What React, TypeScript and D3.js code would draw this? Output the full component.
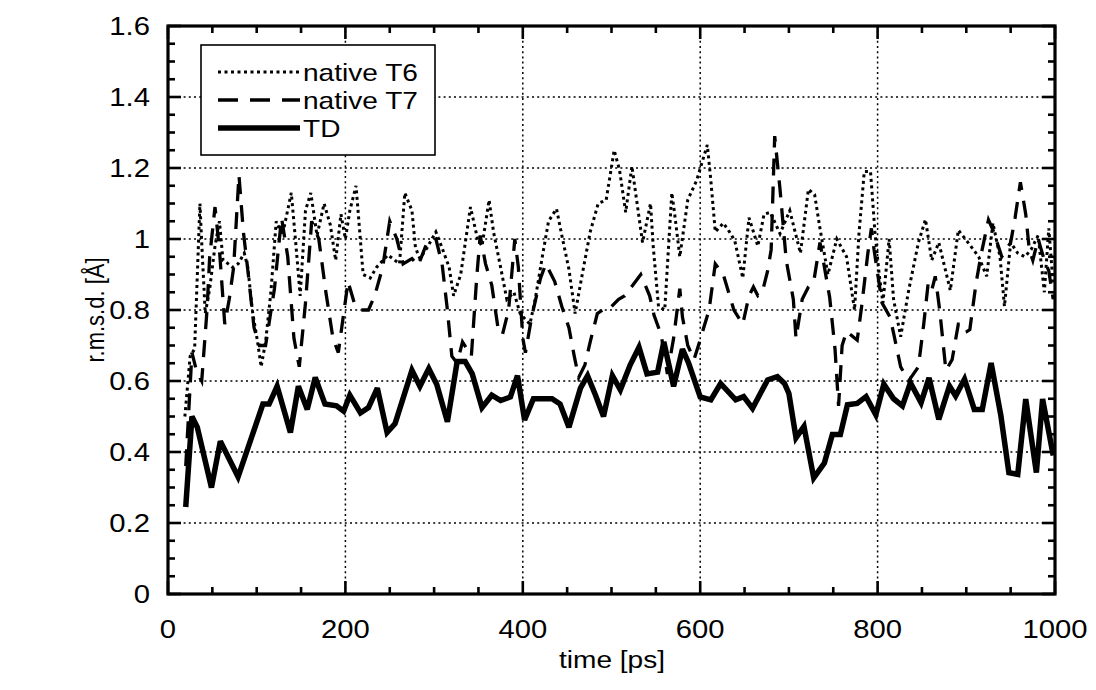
import React from "react";
import * as d3 from "d3";

// ---- data (time [ps], r.m.s.d. [Å]) ----
const tdTime = [20,27,33,49,59,79,107,114,123,138,147,157,166,177,190,198,205,217,226,236,247,256,275,284,294,303,315,326,335,343,354,365,375,386,394,402,412,433,442,452,465,473,482,491,501,510,521,531,540,552,559,570,580,587,600,612,623,640,649,659,676,687,695,700,708,717,728,740,749,758,766,777,787,798,807,818,828,837,849,858,869,881,888,898,909,918,928,939,948,958,967,979,986,998];
const tdValue = [0.245,0.50,0.47,0.30,0.43,0.33,0.535,0.535,0.585,0.455,0.585,0.52,0.61,0.535,0.53,0.515,0.56,0.51,0.525,0.58,0.455,0.48,0.63,0.585,0.635,0.59,0.485,0.655,0.655,0.62,0.525,0.56,0.545,0.555,0.615,0.49,0.55,0.55,0.535,0.47,0.58,0.615,0.56,0.50,0.615,0.575,0.645,0.695,0.62,0.625,0.71,0.585,0.69,0.65,0.555,0.547,0.593,0.547,0.556,0.523,0.603,0.612,0.593,0.565,0.44,0.472,0.327,0.369,0.449,0.449,0.533,0.537,0.556,0.505,0.591,0.55,0.53,0.595,0.539,0.609,0.492,0.586,0.558,0.605,0.52,0.52,0.651,0.502,0.342,0.337,0.549,0.342,0.549,0.39];

const t6Time = [19,25,30,36,38,42,47,53,58,62,68,73,79,86,90,95,101,105,110,116,122,129,139,144,149,155,161,168,176,183,189,195,200,205,212,220,228,235,248,261,267,275,279,284,292,302,309,317,322,330,341,349,354,362,367,375,382,390,397,408,414,422,429,438,444,452,459,467,476,485,494,503,509,516,523,535,544,547,553,560,568,571,577,586,596,608,612,617,626,633,639,648,655,665,672,679,690,701,713,722,729,735,744,754,765,774,779,785,792,797,802,806,813,818,826,835,846,854,861,869,882,891,902,914,923,930,938,943,950,958,966,973,981,988,993,998];
const t6Value = [0.50,0.67,0.69,1.10,0.99,0.79,0.86,0.98,1.05,0.94,0.93,0.92,0.93,0.96,0.92,0.80,0.71,0.64,0.71,0.85,1.05,1.01,1.13,0.99,0.84,1.08,1.13,1.01,1.10,1.04,0.94,1.07,1.00,1.08,1.15,0.90,0.89,0.92,0.955,0.93,1.13,1.08,0.975,0.945,0.975,1.02,0.975,0.92,0.84,0.90,1.09,1.00,0.98,1.11,1.02,0.92,0.83,0.85,0.79,0.76,0.83,0.95,1.05,1.085,1.01,0.915,0.79,0.90,1.02,1.10,1.11,1.25,1.195,1.075,1.205,0.99,1.10,0.98,0.81,0.80,1.13,1.075,0.95,1.11,1.165,1.265,1.165,1.02,1.045,1.02,0.995,0.89,1.06,0.98,1.07,1.075,1.015,1.08,0.96,1.14,1.125,1.03,0.90,1.00,0.95,0.80,1.015,1.19,1.19,1.02,0.895,0.82,1.00,0.83,0.725,0.855,0.99,1.055,0.94,0.99,0.855,1.025,0.99,0.95,0.895,1.045,0.95,0.81,0.99,0.96,0.95,0.97,1.01,0.85,1.03,0.87];

const t7Time = [20,27,32,38,44,47,53,58,64,69,74,80,85,91,97,103,110,120,128,135,142,148,155,162,170,178,186,192,203,210,218,226,233,242,250,258,265,275,282,292,302,309,315,320,326,332,342,348,352,358,365,372,377,384,391,395,400,403,410,420,426,436,444,452,458,463,470,476,484,490,496,508,515,521,533,543,548,556,563,570,577,580,586,593,598,610,617,626,638,648,655,660,665,670,676,680,684,690,697,705,708,715,722,728,735,738,746,752,756,760,765,777,782,789,793,796,805,814,818,826,835,846,852,857,861,865,870,877,884,891,898,901,904,911,917,925,930,940,950,955,961,967,971,975,981,988,993,998];
const t7Value = [0.36,0.68,0.63,0.60,0.80,0.95,1.09,0.97,0.76,0.83,0.92,1.18,1.02,0.89,0.75,0.70,0.70,0.86,1.06,0.95,0.72,0.64,0.82,1.05,1.00,0.85,0.72,0.68,0.88,0.82,0.80,0.80,0.84,0.92,1.05,1.00,0.93,0.945,0.925,0.99,1.00,0.93,0.80,0.67,0.65,0.71,0.67,0.89,1.01,0.93,0.87,0.75,0.73,0.80,1.00,0.92,0.72,0.68,0.78,0.89,0.93,0.88,0.81,0.75,0.67,0.61,0.645,0.71,0.79,0.80,0.80,0.83,0.84,0.86,0.90,0.84,0.785,0.73,0.62,0.72,0.86,0.78,0.70,0.66,0.70,0.80,0.93,0.90,0.80,0.76,0.84,0.865,0.84,0.85,0.91,0.97,1.29,1.14,0.94,0.83,0.72,0.83,0.865,0.88,0.99,0.95,0.835,0.69,0.53,0.70,0.74,0.715,0.81,0.96,1.03,0.97,0.82,0.78,0.735,0.64,0.60,0.64,0.76,0.875,0.855,0.895,0.80,0.63,0.66,0.76,0.76,0.74,0.745,0.876,0.96,1.054,1.026,0.95,0.99,1.06,1.16,1.07,0.97,0.94,1.00,0.94,0.91,0.83];

const seriesNames = ["native T6", "native T7", "TD"];
const xTickValues = [0, 200, 400, 600, 800, 1000];
const yTickValues = [0, 0.2, 0.4, 0.6, 0.8, 1, 1.2, 1.4, 1.6];
const yTickLabels = ["0", "0.2", "0.4", "0.6", "0.8", "1", "1.2", "1.4", "1.6"];

const W = 1096, H = 690;
const X0 = 168, X1 = 1055, Y0 = 594, Y1 = 26;
const FONT = "'Liberation Sans', Arial, Helvetica, sans-serif";
const SX = 1.17;

export default function App() {
  const x = d3.scaleLinear().domain([0, 1000]).range([X0, X1]);
  const y = d3.scaleLinear().domain([0, 1.6]).range([Y0, Y1]);
  const line = d3.line<[number, number]>().x(d => x(d[0])).y(d => y(d[1]));
  const zip = (t: number[], v: number[]) => t.map((tt, i) => [tt, v[i]] as [number, number]);

  const xMinor = d3.range(0, 1001, 50);
  const yMinor = d3.range(0, 1.6001, 0.05);
  const xGrid = [200, 400, 600, 800];
  const yGrid = [0.2, 0.4, 0.6, 0.8, 1, 1.2, 1.4];

  const styles = [
    { w: 3, dash: "3,3.5" },
    { w: 3.3, dash: "17,11" },
    { w: 5.5, dash: "none" },
  ];

  const legendY = [72, 100, 128];

  return (
    <svg width={W} height={H} style={{ position: "absolute", left: 0, top: 0, background: "#fff" }}>
      <rect x={0} y={0} width={W} height={H} fill="#fff" />
      {/* grid */}
      {xGrid.map(v => (
        <line key={"gx" + v} x1={x(v)} x2={x(v)} y1={Y0} y2={Y1} stroke="#000" strokeWidth={1.5} strokeDasharray="2,3.2" />
      ))}
      {yGrid.map(v => (
        <line key={"gy" + v} x1={X0} x2={X1} y1={y(v)} y2={y(v)} stroke="#000" strokeWidth={1.5} strokeDasharray="2,3.2" />
      ))}
      {/* data */}
      <path d={line(zip(t6Time, t6Value)) || ""} fill="none" stroke="#000" strokeWidth={styles[0].w} strokeDasharray={styles[0].dash} />
      <path d={line(zip(t7Time, t7Value)) || ""} fill="none" stroke="#000" strokeWidth={styles[1].w} strokeDasharray={styles[1].dash} />
      <path d={line(zip(tdTime, tdValue)) || ""} fill="none" stroke="#000" strokeWidth={styles[2].w} strokeLinejoin="miter" strokeMiterlimit={3} />
      {/* frame */}
      <rect x={X0} y={Y1} width={X1 - X0} height={Y0 - Y1} fill="none" stroke="#000" strokeWidth={3.2} />
      {/* ticks */}
      {xMinor.map(v => {
        const major = v % 200 === 0;
        const len = major ? 13 : 7;
        return (
          <g key={"tx" + v}>
            <line x1={x(v)} x2={x(v)} y1={Y0} y2={Y0 - len} stroke="#000" strokeWidth={2.6} />
            <line x1={x(v)} x2={x(v)} y1={Y1} y2={Y1 + len} stroke="#000" strokeWidth={2.6} />
          </g>
        );
      })}
      {yMinor.map((v, i) => {
        const major = i % 4 === 0;
        const len = major ? 13 : 7;
        return (
          <g key={"ty" + i}>
            <line x1={X0} x2={X0 + len} y1={y(v)} y2={y(v)} stroke="#000" strokeWidth={2.6} />
            <line x1={X1} x2={X1 - len} y1={y(v)} y2={y(v)} stroke="#000" strokeWidth={2.6} />
          </g>
        );
      })}
      {/* tick labels */}
      {xTickValues.map(v => (
        <g key={"lx" + v} transform={`translate(${x(v)},638) scale(${SX},1)`}>
          <text x={0} y={0} textAnchor="middle" fontFamily={FONT} fontSize={25}>{String(v)}</text>
        </g>
      ))}
      {yTickValues.map((v, i) => (
        <g key={"ly" + v} transform={`translate(150,${y(v) + 9}) scale(${SX},1)`}>
          <text x={0} y={0} textAnchor="end" fontFamily={FONT} fontSize={25}>{yTickLabels[i]}</text>
        </g>
      ))}
      {/* axis titles */}
      <g transform={`translate(612,668) scale(${SX},1)`}>
        <text x={0} y={0} textAnchor="middle" fontFamily={FONT} fontSize={24}>time [ps]</text>
      </g>
      <g transform={`translate(104,310) rotate(-90) scale(1,${SX})`}>
        <text x={0} y={0} textAnchor="middle" fontFamily={FONT} fontSize={22}>r.m.s.d. [Å]</text>
      </g>
      {/* legend */}
      <rect x={201} y={45} width={234} height={110} fill="#fff" stroke="#000" strokeWidth={1.6} />
      {seriesNames.map((name, i) => (
        <g key={name}>
          <line x1={218} x2={300} y1={legendY[i]} y2={legendY[i]} stroke="#000" strokeWidth={styles[i].w}
            strokeDasharray={i === 1 ? "20,12" : styles[i].dash} />
          <g transform={`translate(303,${legendY[i] + 9}) scale(${SX},1)`}>
            <text x={0} y={0} fontFamily={FONT} fontSize={24}>{name}</text>
          </g>
        </g>
      ))}
    </svg>
  );
}
